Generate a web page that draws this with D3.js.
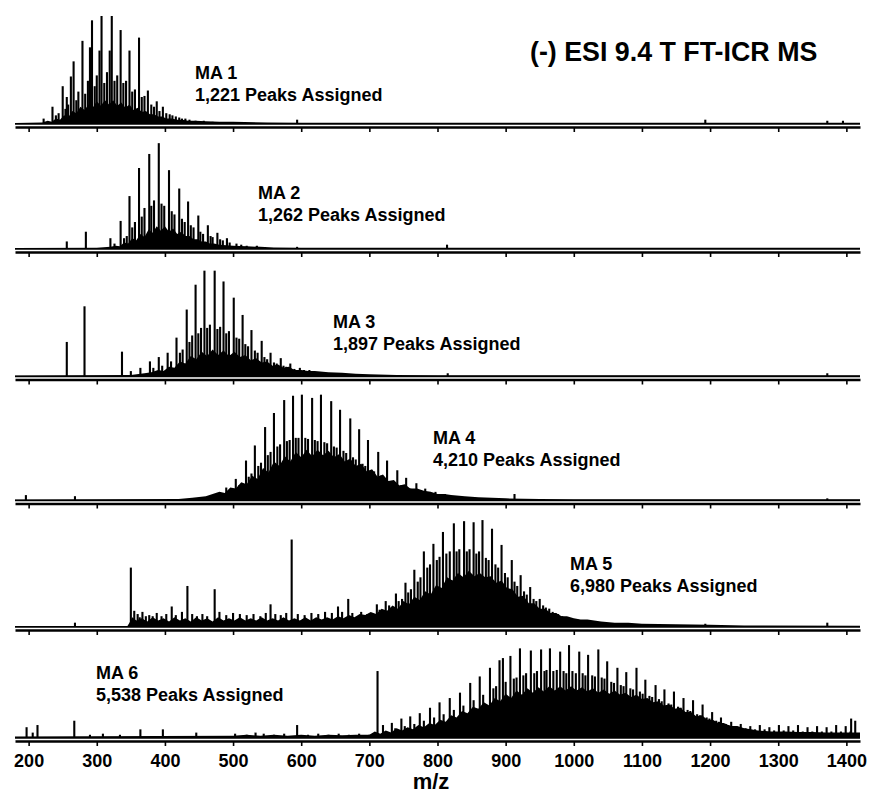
<!DOCTYPE html>
<html>
<head>
<meta charset="utf-8">
<script src="https://cdn.jsdelivr.net/npm/d3@7"></script>
<style>
  body { margin: 0; background: #fff; }
  text { font-family: "Liberation Sans", Arial, sans-serif; font-weight: bold; }
</style>
</head>
<body>
<svg id="ms-svg"></svg>
<script>
// tick labels for the m/z axis
const xTicks = [200, 300, 400, 500, 600, 700, 800, 900, 1000, 1100, 1200, 1300, 1400];

const panelNames = ["MA 1", "MA 2", "MA 3", "MA 4", "MA 5", "MA 6"];
const peakCounts = ["1,221 Peaks Assigned", "1,262 Peaks Assigned", "1,897 Peaks Assigned",
                    "4,210 Peaks Assigned", "6,980 Peaks Assigned", "5,538 Peaks Assigned"];

// peaks: [m/z, relative abundance %], envelope: [m/z, dense-fill height %]
const ma1Peaks = [[222,5],[235,16],[250,35],[256,25],[262,44],[266,58],[279,77],[290,71],[293,96],[304,68],
  [307,100],[319,68],[322,100],[335,87],[348,68],[362,80],[375,31],[388,21],[397,16],
  [240,8],[244,10],[254,14],[258,18],[270,22],[273,30],[283,28],[287,40],[297,35],[300,45],[311,38],
  [315,48],[326,40],[330,45],[339,38],[343,40],[352,30],[356,32],[366,25],[370,26],[380,18],[384,16],
  [392,12],[402,10],[407,9],[411,8],[416,7],[421,6],[425,5],[430,5],[436,4],[445,3],[457,3],[470,2],
  [594,4],[1193,4],[1372,3],[1395,3]];
const ma1Envelope = [[180,1],[220,1.5],[228,3],[234,2],[240,5],[246,4],[252,8],[258,6],[264,12],[270,10],
  [276,16],[282,13],[288,18],[294,15],[300,21],[306,17],[312,22],[318,18],[324,22],[330,17],[336,20],
  [342,15],[348,18],[354,13],[360,15],[366,11],[372,12],[378,9],[384,9],[390,7],[396,7],[402,5],[410,5],
  [418,4],[426,4],[434,3],[445,3],[460,2.5],[480,2],[500,2],[550,1.5],[600,1.2],[1420,1.2]];

const ma2Peaks = [[256,7],[284,16],[320,10],[335,26],[348,49],[362,75],[377,88],[391,98],[406,73],[421,56],
  [434,44],[449,31],[463,22],[477,15],[491,10],
  [326,5],[340,10],[344,12],[352,20],[356,25],[366,30],[370,38],[380,40],[384,45],[395,42],[399,40],
  [410,35],[414,32],[425,28],[429,25],[438,22],[442,20],[452,16],[456,14],[467,12],[470,11],[481,9],
  [485,8],[495,6],[505,5],[512,4],[520,3],[535,3],[594,2],[814,4]];
const ma2Envelope = [[180,1],[300,1.2],[320,2],[328,3],[334,2.5],[340,6],[346,5],[352,10],[358,8],[364,14],
  [370,11],[376,18],[382,15],[388,21],[394,17],[400,21],[406,16],[412,19],[418,14],[424,16],[430,12],
  [436,12],[442,9],[448,9],[454,7],[460,7],[466,5],[472,5],[480,4],[490,3.5],[500,3],[520,2.5],[540,2],
  [560,1.5],[600,1.2],[1420,1.2]];

const ma3Peaks = [[256,32],[282,65],[337,23],[350,5],[364,8],[378,14],[391,18],[404,22],[417,36],[432,62],
  [445,85],[458,98],[473,98],[486,88],[501,73],[514,57],[527,43],[542,33],[555,22],[570,17],[584,12],
  [598,8],[612,6],
  [383,8],[396,10],[409,14],[422,22],[426,25],[436,32],[440,38],[449,40],[453,45],[462,45],[466,48],
  [477,44],[481,46],[490,40],[494,42],[505,36],[509,35],[518,30],[522,28],[532,24],[536,22],[546,18],
  [550,16],[560,13],[564,12],[574,10],[578,9],[590,7],[604,6],[618,5],[630,4],[645,3],
  [594,4],[815,3],[1372,3]];
const ma3Envelope = [[180,1],[350,1.5],[370,3],[380,4],[390,6],[398,5],[406,9],[414,8],[422,14],[430,12],
  [438,19],[446,16],[454,23],[462,19],[470,25],[478,20],[486,24],[494,19],[502,23],[510,18],[518,20],
  [526,15],[534,17],[542,13],[550,14],[558,10],[566,11],[574,8],[582,9],[590,6],[600,6],[610,5],[620,5],
  [640,4],[660,3.5],[680,2.5],[700,2],[740,1.5],[800,1.2],[1420,1.2]];

const ma4Peaks = [[196,5],[268,4],[490,12],[504,20],[519,37],[532,51],[547,68],[560,81],[575,93],[588,97],
  [601,98],[616,95],[629,98],[644,92],[657,84],[672,76],[685,66],[698,56],[713,45],[726,37],[741,28],
  [754,21],[769,16],[782,11],[797,8],[811,6],
  [494,8],[509,14],[523,22],[527,25],[537,32],[541,35],[551,42],[555,45],[565,50],[569,52],[579,55],
  [583,56],[592,58],[596,58],[606,58],[610,57],[620,56],[624,55],[634,54],[638,53],[648,50],[652,49],
  [662,46],[666,44],[676,40],[680,38],[690,34],[694,32],[703,28],[707,27],[717,23],[721,21],[731,18],
  [735,17],[746,14],[750,13],[760,11],[764,10],[774,8],[787,6],[802,5],[816,4],[830,3],[845,3],
  [913,6],[1372,2]];
const ma4Envelope = [[180,1],[420,1.5],[440,2.5],[460,4],[470,6],[480,8],[488,7],[496,12],[504,11],[512,17],
  [520,15],[528,23],[536,20],[544,30],[552,26],[560,36],[568,32],[576,41],[584,36],[592,45],[600,40],
  [608,47],[616,41],[624,47],[632,42],[640,46],[648,40],[656,43],[664,36],[672,39],[680,32],[688,34],
  [696,27],[704,29],[712,22],[720,24],[728,18],[736,19],[744,14],[752,15],[760,11],[770,11],[780,9],
  [790,8],[800,6],[810,6],[820,5],[840,4],[860,3],[880,2.5],[900,2],[950,1.5],[1000,1.2],[1420,1.2]];

const ma5Peaks = [[268,4],[350,55],[363,9],[372,10],[382,10],[410,19],[433,38],[473,35],[555,21],[586,81],
  [654,19],[669,26],[681,9],
  [355,15],[360,12],[367,14],[377,11],[388,13],[395,10],[402,12],[416,11],[425,14],[440,12],[447,10],
  [455,12],[462,10],[480,14],[490,11],[500,13],[510,12],[520,11],[530,12],[540,10],[548,13],[562,12],
  [570,11],[578,13],[595,12],[605,11],[615,13],[625,12],[635,14],[645,13],[660,14],[675,13],[688,14],
  [697,12],[711,21],[724,24],[739,31],[753,41],[766,53],[780,70],[794,77],[808,88],[824,96],[839,98],
  [853,97],[866,99],[880,91],[894,76],[909,62],[922,48],[936,37],[950,26],[964,17],[977,12],[991,9],
  [1005,7],[1019,6],[1033,5],[1047,4],
  [702,10],[715,16],[729,20],[743,24],[748,26],[757,32],[761,35],[771,42],[775,46],[785,55],[789,58],
  [799,62],[803,65],[813,68],[818,70],[828,70],[832,72],[843,70],[847,72],[857,68],[861,70],[871,64],
  [875,62],[885,58],[889,55],[899,50],[903,46],[913,42],[917,38],[927,33],[931,30],[941,26],[945,24],
  [955,20],[959,18],[969,14],[973,13],[983,10],[997,8],[1011,6],[1025,5],[1040,4],[1060,3],[1080,3],
  [1100,2],[1193,3],[1372,4]];
const ma5Envelope = [[180,1],[345,1],[348,4],[352,9],[358,6],[366,8],[374,5],[382,9],[390,6],[398,8],
  [406,5],[414,9],[422,6],[430,8],[438,5],[446,9],[454,6],[462,8],[470,5],[478,9],[486,6],[494,8],
  [502,6],[510,9],[518,6],[526,8],[534,6],[542,9],[550,6],[558,8],[566,6],[574,9],[582,6],[590,8],
  [598,6],[606,9],[614,6],[622,9],[630,7],[638,9],[646,7],[654,10],[662,8],[670,11],[678,9],[686,12],
  [694,11],[702,14],[710,12],[718,17],[726,15],[734,20],[742,17],[750,24],[758,21],[766,28],[774,25],
  [782,33],[790,30],[798,39],[806,36],[814,46],[822,43],[830,50],[838,46],[846,52],[854,47],[862,50],
  [870,46],[878,47],[886,41],[894,43],[902,36],[910,35],[918,28],[926,29],[934,22],[942,22],[950,17],
  [958,17],[966,13],[974,13],[982,10],[990,10],[1000,8],[1010,7],[1020,7],[1030,6],[1040,5],[1060,4],
  [1080,4],[1100,3],[1150,2.5],[1200,2],[1250,1.5],[1420,1.2]];

const ma6Peaks = [[197,10],[206,5],[213,12],[267,16],[290,3],[309,4],[334,3],[364,8],[397,8],[446,5],
  [503,4],[520,3],[533,5],[545,4],[560,3],[575,4],[594,12],[610,3],[625,4],[640,3],[655,4],[670,3],
  [685,4],[700,3],[712,62],
  [720,12],[733,14],[747,18],[760,20],[774,23],[789,28],[803,33],[818,37],[833,42],[848,51],[862,57],
  [877,65],[891,72],[896,74],[907,76],[921,83],[937,81],[952,82],[965,83],[980,80],[993,86],[1008,80],
  [1021,77],[1036,82],[1049,71],[1064,65],[1077,61],[1092,65],[1105,54],[1120,49],[1133,45],[1147,43],
  [1161,37],[1175,35],[1189,31],[1203,24],[1216,19],[1231,15],[1245,13],[1259,11],[1273,12],[1287,10],
  [1301,12],[1315,11],[1329,12],[1343,10],[1357,11],[1371,10],[1385,12],[1399,11],[1407,18],[1413,16],
  [738,9],[752,11],[766,13],[780,16],[795,19],[809,22],[824,26],[838,30],[853,35],[867,40],[882,46],
  [886,48],[900,52],[912,55],[916,56],[926,58],[930,60],[942,60],[946,62],[957,62],[960,63],[970,62],
  [975,63],[985,62],[989,60],[998,62],[1003,60],[1013,60],[1017,58],[1027,58],[1031,57],[1041,56],
  [1045,55],[1055,52],[1059,51],[1069,49],[1073,48],[1083,46],[1087,45],[1097,43],[1101,41],[1111,39],
  [1115,38],[1125,36],[1129,34],[1139,32],[1143,31],[1153,29],[1157,28],[1167,26],[1171,25],[1181,22],
  [1185,21],[1195,19],[1199,18],[1209,16],[1213,15],[1223,13],[1227,12],[1238,10],[1252,9],[1266,8],
  [1280,8],[1294,7],[1308,7],[1322,7],[1336,6],[1350,6],[1364,6],[1378,6],[1392,6],[1406,6]];
const ma6Envelope = [[180,1.5],[500,2],[520,3],[540,2],[560,3],[580,2],[600,3],[620,2],[640,3],[660,2.5],
  [680,3],[700,3],[708,6],[716,4],[724,7],[732,5],[740,9],[748,7],[756,10],[764,8],[772,12],[780,10],
  [788,14],[796,12],[804,17],[812,15],[820,21],[828,19],[836,25],[844,23],[852,29],[860,27],[868,33],
  [876,30],[884,37],[892,34],[900,41],[908,37],[916,44],[924,40],[932,46],[940,42],[948,47],[956,43],
  [964,48],[972,44],[980,48],[988,44],[996,48],[1004,44],[1012,47],[1020,43],[1028,46],[1036,42],
  [1044,45],[1052,41],[1060,44],[1068,40],[1076,42],[1084,38],[1092,40],[1100,36],[1108,37],[1116,33],
  [1124,34],[1132,30],[1140,31],[1148,27],[1156,28],[1164,24],[1172,24],[1180,20],[1188,21],[1196,17],
  [1204,17],[1212,14],[1220,14],[1230,11],[1240,11],[1250,9],[1260,8],[1270,7],[1290,6],[1310,6],
  [1330,5.5],[1350,5.5],[1370,5],[1390,5],[1420,5]];

const allPeaks = [ma1Peaks, ma2Peaks, ma3Peaks, ma4Peaks, ma5Peaks, ma6Peaks];
const allEnvelopes = [ma1Envelope, ma2Envelope, ma3Envelope, ma4Envelope, ma5Envelope, ma6Envelope];

const width = 869;
const height = 794;

// layout: axis line of each panel and where its label sits
const axisY = [127, 252, 379.5, 503.5, 630, 741];
const labelPos = [[195, 79], [258, 199], [333, 328], [433, 444], [570, 569.5], [96, 679]];
const panelHeight = 108;

const svg = d3.select("#ms-svg")
    .attr("width", width)
    .attr("height", height);

svg.append("rect")
    .attr("width", width)
    .attr("height", height)
    .attr("fill", "white");

const xScale = d3.scaleLinear()
    .domain([180, 1420])
    .range([15, 860]);

for (let i = 0; i < 6; i++)
{
    const base = axisY[i] - 3;
    const yScale = d3.scaleLinear()
        .domain([0, 100])
        .range([base, base - panelHeight]);

    const g = svg.append("g").attr("class", "panel");

    // dense unresolved fill under the peaks
    const area = d3.area()
        .x(d => xScale(d[0]))
        .y0(yScale(0))
        .y1(d => yScale(d[1]));

    g.append("path")
        .datum(allEnvelopes[i])
        .attr("d", area)
        .attr("fill", "black");

    g.selectAll(".peak")
        .data(allPeaks[i])
        .enter().append("line")
        .attr("class", "peak")
        .attr("x1", d => xScale(d[0]))
        .attr("x2", d => xScale(d[0]))
        .attr("y1", yScale(0))
        .attr("y2", d => yScale(d[1]))
        .attr("stroke", "black")
        .attr("stroke-width", 2.1);

    // baseline
    g.append("line")
        .attr("x1", xScale.range()[0])
        .attr("x2", xScale.range()[1])
        .attr("y1", base)
        .attr("y2", base)
        .attr("stroke", "black")
        .attr("stroke-width", 1.4);

    const axis = d3.axisBottom(xScale)
        .tickValues(xTicks)
        .tickSize(5)
        .tickSizeOuter(0)
        .tickPadding(8)
        .tickFormat(i < 5 ? "" : d3.format("d"));

    const ax = g.append("g")
        .attr("transform", `translate(0,${axisY[i]})`)
        .call(axis);
    ax.select(".domain").attr("stroke-width", 2.5).attr("stroke", "black");
    ax.selectAll(".tick line").attr("stroke-width", 1.6).attr("stroke", "black");
    ax.selectAll(".tick text")
        .style("font-size", "18px")
        .style("font-family", "'Liberation Sans', Arial, sans-serif")
        .style("font-weight", "bold")
        .attr("fill", "black");

    g.append("text")
        .attr("x", labelPos[i][0])
        .attr("y", labelPos[i][1])
        .style("font-size", "18px")
        .text(panelNames[i]);

    g.append("text")
        .attr("x", labelPos[i][0])
        .attr("y", labelPos[i][1] + 22)
        .style("font-size", "18px")
        .text(peakCounts[i]);
}

svg.append("text")
    .attr("x", 530)
    .attr("y", 61)
    .style("font-size", "26.8px")
    .text("(-) ESI 9.4 T FT-ICR MS");

svg.append("text")
    .attr("x", 431)
    .attr("y", 789)
    .attr("text-anchor", "middle")
    .style("font-size", "22px")
    .text("m/z");
</script>
</body>
</html>
